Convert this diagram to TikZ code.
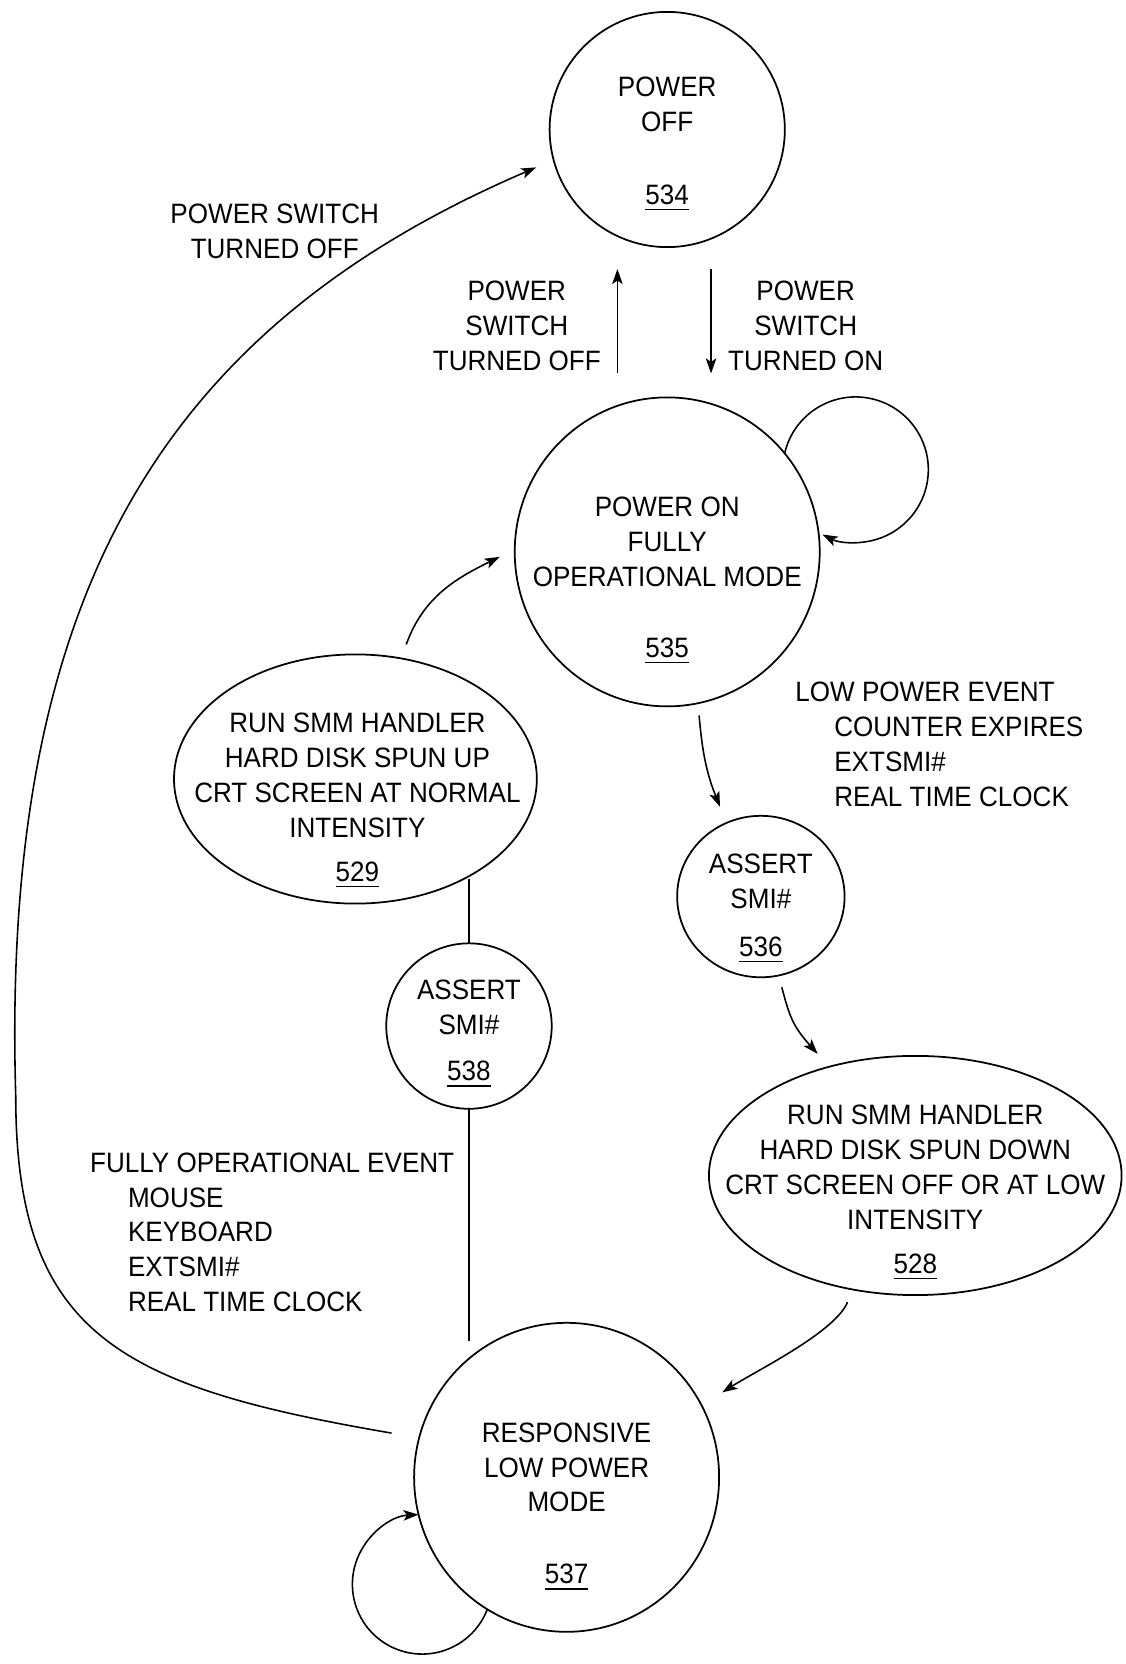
\documentclass[tikz,border=0pt]{standalone}
\usepackage{fontspec}
\setmainfont{Liberation Sans}[FakeStretch=0.93]
\usepackage{tikz}
\usetikzlibrary{calc,shapes.geometric,arrows.meta}

\tikzset{
  modebox/.style={draw, ellipse, line width=0.5pt, inner sep=0pt, outer sep=0pt},
  txt/.style={inner sep=0pt, align=center, font=\fontsize{8}{9.96}\selectfont},
  refnum/.style={inner sep=0pt, anchor=base, font=\fontsize{8}{9.96}\selectfont},
  arr/.style={line width=0.45pt, -{Stealth[length=4.3pt,width=3pt,inset=1pt]}}
}

\begin{document}
\begin{tikzpicture}[x=0.01cm,y=-0.01cm]
    \path[fill=white] (0,0) rectangle (1129,1664);

    % the states
    \node[modebox, minimum width=2.36cm, minimum height=2.36cm] (off) at (669,130) {};
    \node[modebox, minimum width=3.06cm, minimum height=3.10cm] (on) at (669,554) {};
    \node[modebox, minimum width=3.64cm, minimum height=2.50cm] (up) at (356,782) {};
    \node[modebox, minimum width=1.68cm, minimum height=1.62cm] (smiA) at (763,900) {};
    \node[modebox, minimum width=1.66cm, minimum height=1.66cm] (smiB) at (470,1030) {};
    \node[modebox, minimum width=4.14cm, minimum height=2.40cm] (down) at (918,1180) {};
    \node[modebox, minimum width=3.06cm, minimum height=3.10cm] (low) at (568,1483) {};

    \node[txt] (offtxt) at (669,105) {POWER\\OFF};
    \node[refnum] (offnum) at (669,205) {\underline{534}};
    \node[txt] (ontxt) at (669,544) {POWER ON\\FULLY\\OPERATIONAL MODE};
    \node[refnum] (onnum) at (669,660) {\underline{535}};
    \node[txt] (uptxt) at (358,778) {RUN SMM HANDLER\\HARD DISK SPUN UP\\CRT SCREEN AT NORMAL\\INTENSITY};
    \node[refnum] (upnum) at (358,885) {\underline{529}};
    \node[txt] (smiAtxt) at (763,885) {ASSERT\\SMI\#};
    \node[refnum] (smiAnum) at (763,960) {\underline{536}};
    \node[txt] (smiBtxt) at (470,1011) {ASSERT\\SMI\#};
    \node[refnum] (smiBnum) at (470,1085) {\underline{538}};
    \node[txt] (downtxt) at (918,1172) {RUN SMM HANDLER\\HARD DISK SPUN DOWN\\CRT SCREEN OFF OR AT LOW\\INTENSITY};
    \node[refnum] (downnum) at (918,1278) {\underline{528}};
    \node[txt] (lowtxt) at (568,1473) {RESPONSIVE\\LOW POWER\\MODE};
    \node[refnum] (lownum) at (568,1590) {\underline{537}};

    % event labels
    \node[txt] (lbloff) at (275,232) {POWER SWITCH\\TURNED OFF};
    \node[txt] (lblup) at (518,327) {POWER\\SWITCH\\TURNED OFF};
    \node[txt] (lbldown) at (808,327) {POWER\\SWITCH\\TURNED ON};
    \node[txt, align=left, anchor=west] (lbllow) at (797,747)
      {LOW POWER EVENT\\\hspace*{0.39cm}COUNTER EXPIRES\\\hspace*{0.39cm}EXTSMI\#\\\hspace*{0.39cm}REAL TIME CLOCK};
    \node[txt, align=left, anchor=west] (lblfull) at (89,1237)
      {FULLY OPERATIONAL EVENT\\\hspace*{0.38cm}MOUSE\\\hspace*{0.38cm}KEYBOARD\\\hspace*{0.38cm}EXTSMI\#\\\hspace*{0.38cm}REAL TIME CLOCK};

    % transitions
    \draw[arr] ($(on.north)+(-50,-24)$) -- ($(off.south)+(-50,22)$);
    \draw[arr] ($(off.south)+(44,22)$) -- ($(on.north)+(44,-24)$);
    \draw[arr] (on.40) arc[start angle=167, end angle=-117, radius=0.73cm];
    \draw[arr] ([shift={(51,-10)}]up.north) .. controls +(17,-47) and +(-45,22) .. ([shift={(-15,5)}]on.west);
    \draw[arr] ([shift={(32,9)}]on.south) .. controls +(3,35) and +(-14,-35) .. ([shift={(-41,-9)}]smiA.north);
    \draw[arr] ([shift={(21,10)}]smiA.south) .. controls +(8,30) and +(-25,-28) .. ([shift={(-98,-2)}]down.north);
    \draw[arr, shorten >=7pt] ([shift={(-68,7)}]down.south) .. controls +(-12,30) and +(55,-35) .. (low.28);
    \draw[arr] (low.239) arc[start angle=-21, end angle=-267, radius=0.70cm];
    \draw[arr, shorten <=8pt, shorten >=5.4pt] (low.165) .. controls (120,1392) and (15,1340) .. (15,1100)
      .. controls (0,600) and (160,330) .. (off.195);

    \coordinate (rejoin) at (470,1346);
    \draw[line width=0.45pt] (smiB.north) -- (smiB.north |- up.-43);
    \draw[line width=0.45pt] (smiB.south) -- (rejoin);

    % \draw[help lines, step=100] (0,0) grid (1129,1664);
\end{tikzpicture}
\end{document}
